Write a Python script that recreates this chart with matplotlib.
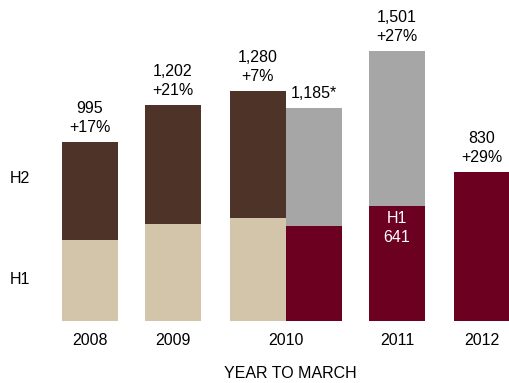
import matplotlib.pyplot as plt

plt.rcParams['font.family'] = ['Liberation Sans', 'DejaVu Sans']

# values by half-year
years = ["2008", "2009", "2010", "2011", "2012"]
h1_old = [450, 539, 572]          # first basis, 2008-2010
total_old = [995, 1202, 1280]
growth_old = ["+17%", "+21%", "+7%"]
h1_new = [528, 641, 830]          # second basis, 2010-2012
total_new = [1185, 1501, 830]
label_new = ["1,185*", "1,501\n+27%", "830\n+29%"]

brown = "#4d3328"
beige = "#d3c5aa"
grey = "#a6a6a6"
maroon = "#6b0020"
fs = 11.5
ls = 1.3

fig = plt.figure(figsize=(5.09, 3.83), dpi=100)
ax = fig.add_axes([0, 0, 1, 1])
ax.set_xlim(0, 509)
ax.set_ylim(-62 / 0.18, (383 - 62) / 0.18)
ax.axis("off")

w = 56
x_old = [90, 173, 258]
x_new = [314, 397, 482]

for x, h1, tot, g in zip(x_old, h1_old, total_old, growth_old):
    ax.bar(x, h1, w, color=beige)
    ax.bar(x, tot - h1, w, bottom=h1, color=brown)
    ax.text(x, tot + 38, f"{tot:,}\n{g}", ha="center", va="bottom",
            fontsize=fs, linespacing=ls)

for x, h1, tot, lab in zip(x_new, h1_new, total_new, label_new):
    ax.bar(x, h1, w, color=maroon)
    if tot > h1:
        ax.bar(x, tot - h1, w, bottom=h1, color=grey)
    ax.text(x, tot + 38, lab, ha="center", va="bottom",
            fontsize=fs, linespacing=ls)

ax.text(x_new[1], h1_new[1] - 30, f"H1\n{h1_new[1]}", ha="center", va="top",
        color="white", fontsize=fs, linespacing=ls)

# category labels under the bars
cat_x = [x_old[0], x_old[1], (x_old[2] + x_new[0]) / 2, x_new[1], x_new[2]]
for x, yr in zip(cat_x, years):
    ax.text(x, -110, yr, ha="center", va="center", fontsize=fs)

ax.text(20, 790, "H2", ha="center", va="center", fontsize=fs)
ax.text(20, 233, "H1", ha="center", va="center", fontsize=fs)
ax.text(290, -289, "YEAR TO MARCH", ha="center", va="center", fontsize=fs)

fig.savefig("out.png", dpi=100)
